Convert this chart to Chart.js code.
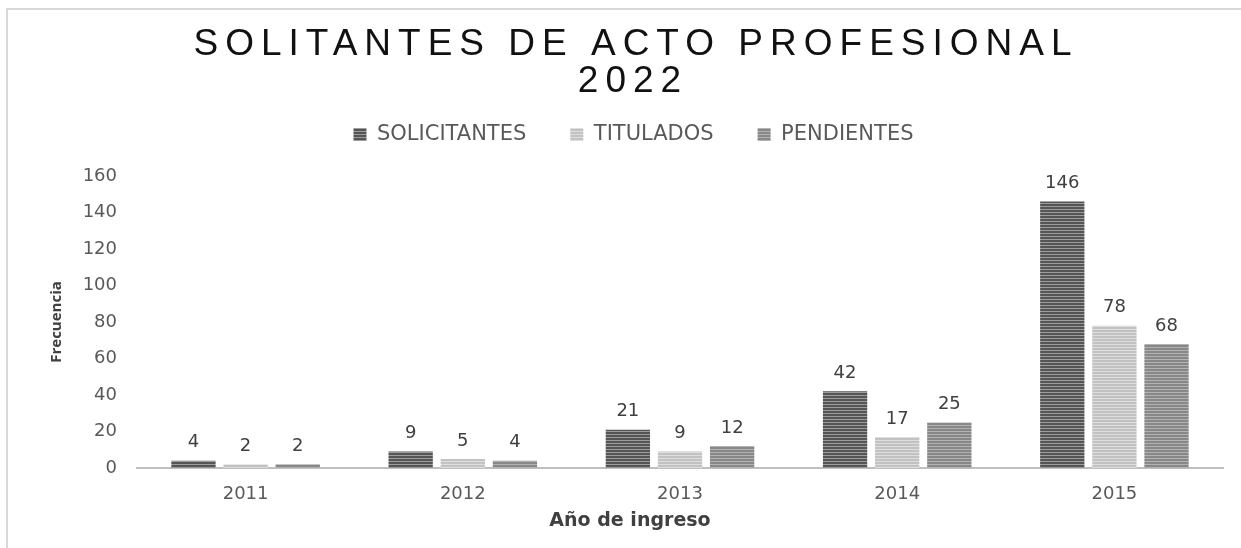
<!DOCTYPE html>
<html>
<head>
<meta charset="utf-8">
<script src="https://cdn.jsdelivr.net/npm/chart.js@4.4.1/dist/chart.umd.min.js"></script>
<style>
  html, body { margin: 0; padding: 0; background: #fff; }
  #frame {
    position: absolute; left: 6px; top: 8px; right: 0; bottom: 0;
    border-top: 2px solid #d9d9d9; border-left: 2px solid #d9d9d9;
  }
  #wrap { position: absolute; left: 0; top: 0; width: 1241px; height: 548px; }
</style>
</head>
<body>
<div id="frame"></div>
<div id="wrap"><canvas id="chart"></canvas></div>
<script>
// Chart data
const years = ["2011", "2012", "2013", "2014", "2015"];
const solicitantes = [4, 9, 21, 42, 146];
const titulados = [2, 5, 9, 17, 78];
const pendientes = [2, 4, 12, 25, 68];
const yTicks = [0, 20, 40, 60, 80, 100, 120, 140, 160];

const titleLines = ["SOLITANTES DE ACTO PROFESIONAL", "2022"];
const xTitle = "Año de ingreso";
const yTitle = "Frecuencia";

/**
 * Horizontal stripe fill like the original bars
 */
function stripes(dark, light) {
  const c = document.createElement("canvas");
  c.width = 4;
  c.height = 3;
  const g = c.getContext("2d");
  g.fillStyle = light;
  g.fillRect(0, 0, 4, 3);
  g.fillStyle = dark;
  g.fillRect(0, 0, 4, 2);
  return g.createPattern(c, "repeat");
}

const fillSolic = stripes("#555555", "#9c9c9c");
const fillTit = stripes("#c2c2c2", "#dedede");
const fillPend = stripes("#888888", "#b2b2b2");

// Title and x axis title drawn by hand (letter spacing / centred on the whole chart)
const titlePlugin = {
  id: "spacedTitle",
  beforeLayout(chart) {
    // fixed legend block height, leaves room between legend and plot
    const legend = chart.legend;
    if (legend && !legend._patched) {
      const fit = legend.fit.bind(legend);
      legend.fit = function () {
        fit();
        this.height = 96;
      };
      legend._patched = true;
    }
  },
  afterDraw(chart) {
    const ctx = chart.ctx;
    ctx.save();
    ctx.font = "37px 'Liberation Sans', Arial, sans-serif";
    ctx.fillStyle = "#111";
    ctx.textAlign = "center";
    ctx.textBaseline = "middle";
    ctx.letterSpacing = "7px";
    ctx.fillText(titleLines[0], 636, 45);
    ctx.fillText(titleLines[1], 633, 82);
    ctx.letterSpacing = "0px";
    ctx.font = "bold 19px 'DejaVu Sans', sans-serif";
    ctx.fillStyle = "#404040";
    ctx.fillText(xTitle, 630, 521);
    ctx.restore();
  },
};

// Value labels above each bar
const valueLabels = {
  id: "valueLabels",
  afterDatasetsDraw(chart) {
    const ctx = chart.ctx;
    ctx.save();
    ctx.font = "18px 'DejaVu Sans', sans-serif";
    ctx.fillStyle = "#404040";
    ctx.textAlign = "center";
    ctx.textBaseline = "bottom";
    chart.data.datasets.forEach(function (ds, i) {
      chart.getDatasetMeta(i).data.forEach(function (bar, j) {
        ctx.fillText(ds.data[j], bar.x, bar.y - 9);
      });
    });
    ctx.restore();
  },
};

new Chart(document.getElementById("chart"), {
  type: "bar",
  data: {
    labels: years,
    datasets: [
      { label: "SOLICITANTES", data: solicitantes, backgroundColor: fillSolic },
      { label: "TITULADOS", data: titulados, backgroundColor: fillTit },
      { label: "PENDIENTES", data: pendientes, backgroundColor: fillPend },
    ],
  },
  options: {
    responsive: true,
    maintainAspectRatio: false,
    animation: false,
    devicePixelRatio: 1,
    categoryPercentage: 0.72,
    barPercentage: 0.85,
    layout: { padding: { top: 80, left: 44, right: 18, bottom: 12 } },
    plugins: {
      title: { display: false },
      tooltip: { enabled: false },
      legend: {
        position: "top",
        labels: {
          boxWidth: 13,
          boxHeight: 13,
          padding: 44,
          color: "#595959",
          font: { family: "'DejaVu Sans', sans-serif", size: 21 },
        },
      },
    },
    scales: {
      x: {
        grid: { display: false, drawTicks: false },
        border: { display: true, color: "#bfbfbf", width: 2 },
        ticks: {
          color: "#595959",
          padding: 16,
          font: { family: "'DejaVu Sans', sans-serif", size: 18 },
        },
        afterFit(scale) {
          scale.height = 68;
        },
      },
      y: {
        min: 0,
        max: 160,
        grid: { display: false, drawTicks: false },
        border: { display: false },
        afterBuildTicks(scale) {
          scale.ticks = yTicks.map((v) => ({ value: v }));
        },
        ticks: {
          color: "#595959",
          padding: 20,
          font: { family: "'DejaVu Sans', sans-serif", size: 18 },
        },
        title: {
          display: true,
          text: yTitle,
          color: "#404040",
          font: { family: "'Open Sans', sans-serif", size: 15, weight: "bold" },
        },
        afterFit(scale) {
          scale.width = 93;
        },
      },
    },
  },
  plugins: [titlePlugin, valueLabels],
});
</script>
</body>
</html>
